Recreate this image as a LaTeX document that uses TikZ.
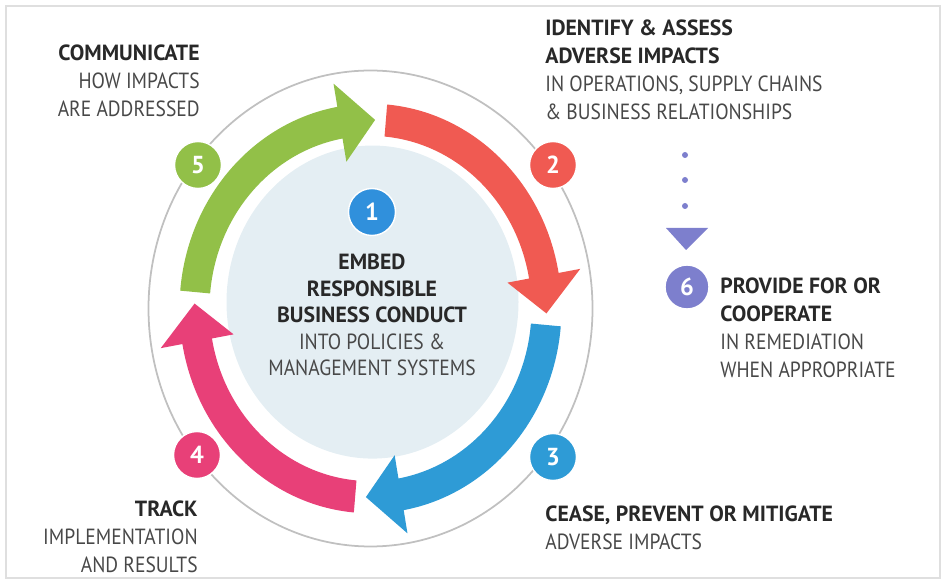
\documentclass[tikz,border=0pt]{standalone}
\usepackage{fontspec}
\setmainfont{PT Sans}[FakeStretch=0.89, BoldFeatures={FakeStretch=0.99}]
\usepackage{xcolor}
\usepackage{tikz}
\usetikzlibrary{positioning, calc}
\definecolor{arrgreen}{RGB}{146,192,72}
\definecolor{arrred}{RGB}{240,90,82}
\definecolor{arrblue}{RGB}{46,155,214}
\definecolor{arrpink}{RGB}{232,64,120}
\definecolor{dotpurple}{RGB}{125,127,205}
\definecolor{hubblue}{RGB}{48,144,220}
\definecolor{hubfill}{RGB}{228,238,243}
\definecolor{ringgray}{RGB}{192,192,192}
\definecolor{txtdark}{RGB}{40,40,40}
\definecolor{txtgray}{RGB}{72,72,72}
\newcommand{\headtxt}[1]{{\color{txtdark}\bfseries #1}}
\tikzset{
  badge/.style={circle, fill=#1, draw=white, line width=0.8pt,
    minimum size=0.94cm, inner sep=0pt, text=white,
    font=\fontsize{14}{14}\selectfont\bfseries},
  label/.style={inner sep=0pt, text=txtgray,
    font=\fontsize{12.5}{16}\selectfont},
  dot/.style={circle, fill=dotpurple, minimum size=0.12cm, inner sep=0pt}
}

\begin{document}
\begin{tikzpicture}[x=0.02cm, y=0.02cm]
  \useasboundingbox (0,0) rectangle (946,585);
  \draw[ringgray!50, line width=0.6pt] (6,7) rectangle (940,579);

  % ring and hub
  \begin{scope}[shift={(370.5,276.5)}, yscale=1.072]
    \draw[ringgray, line width=1pt] (0,0) circle[radius=222];
    \fill[hubfill] (2,6) circle[radius=146];
    % cycle arrows
    \foreach \col [count=\k from 0] in {arrgreen, arrred, arrblue, arrpink} {
      \pgfmathsetmacro{\sa}{175-90*\k}
      \pgfmathsetmacro{\ba}{\sa-75}
      \pgfmathsetmacro{\ta}{\sa-86.5}
      \fill[\col] (\sa:191) arc[start angle=\sa, end angle=\ba, radius=191]
        -- (\ba:213) -- (\ta:176) -- (\ba:139) -- (\ba:161)
        arc[start angle=\ba, end angle=\sa, radius=161] -- cycle;
    }
  \end{scope}

  % badges
  \node[badge=hubblue] (b1) at (372,373) {1};
  \node[badge=arrred] (b2) at (553,420) {2};
  \node[badge=arrblue] (b3) at (553,128) {3};
  \node[badge=arrpink] (b4) at (197,130) {4};
  \node[badge=arrgreen] (b5) at (198,420) {5};
  \node[badge=dotpurple, minimum size=0.88cm] (b6) at (687,298) {6};

  % hub text
  \node[label, align=center, font=\fontsize{12.5}{15}\selectfont] (hub) at (372,270)
    {\headtxt{EMBED}\\ \headtxt{RESPONSIBLE}\\ \headtxt{BUSINESS CONDUCT}\\
     INTO POLICIES \&\\ MANAGEMENT SYSTEMS};

  % step texts
  \node[label, align=right, anchor=east] (t5) at (200,504)
    {\headtxt{COMMUNICATE}\\ HOW IMPACTS\\ ARE ADDRESSED};
  \node[label, align=left, anchor=west] (t2) at (545,515)
    {\headtxt{IDENTIFY \& ASSESS}\\ \headtxt{ADVERSE IMPACTS}\\
     IN OPERATIONS, SUPPLY CHAINS\\ \& BUSINESS RELATIONSHIPS};
  \node[label, align=left, anchor=west] (t6) at (720,257)
    {\headtxt{PROVIDE FOR OR}\\ \headtxt{COOPERATE}\\ IN REMEDIATION\\ WHEN APPROPRIATE};
  \node[label, align=right, anchor=east] (t4) at (198,48)
    {\headtxt{TRACK}\\ IMPLEMENTATION\\ AND RESULTS};
  \node[label, align=left, anchor=west] (t3) at (545,57)
    {\headtxt{CEASE, PREVENT OR MITIGATE}\\ ADVERSE IMPACTS};

  % remediation link
  \node[dot] (d1) at (685,430) {};
  \node[dot] (d2) at (685,405) {};
  \node[dot] (d3) at (685,379) {};
  \coordinate (tri) at (686,335);
  \fill[dotpurple] ($(tri)+(-20,22)$) -- ($(tri)+(22,22)$) -- (tri) -- cycle;
\end{tikzpicture}
\end{document}
